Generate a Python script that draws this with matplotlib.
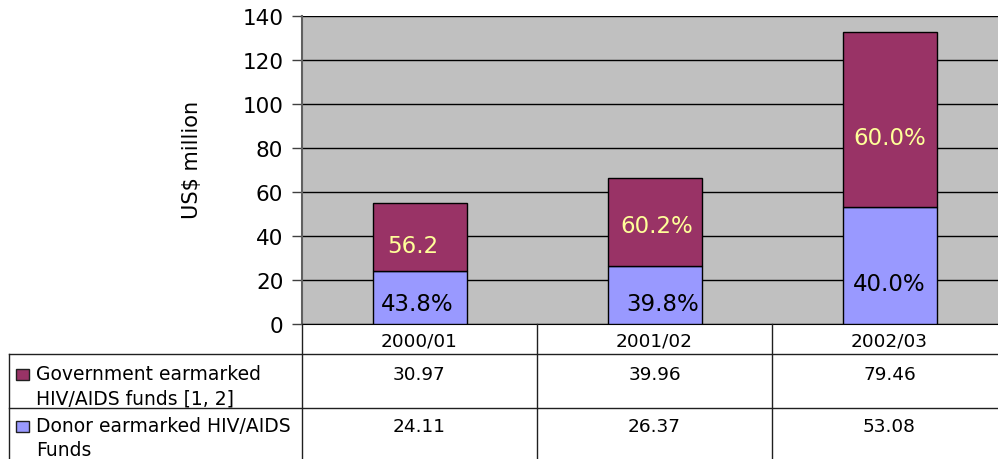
import numpy as np
import matplotlib.pyplot as plt
from matplotlib.lines import Line2D
from matplotlib.patches import Rectangle
from matplotlib.transforms import blended_transform_factory

plt.rcParams['font.family'] = ['DejaVu Sans']

# data
years = ['2000/01', '2001/02', '2002/03']
government = [30.97, 39.96, 79.46]
donor = [24.11, 26.37, 53.08]
gov_labels = ['56.2', '60.2%', '60.0%']
donor_labels = ['43.8%', '39.8%', '40.0%']
series_names = [['Government earmarked', 'HIV/AIDS funds [1, 2]'],
                ['Donor earmarked HIV/AIDS', 'Funds']]

gov_color = '#993366'
donor_color = '#9999FF'

W, H = 998, 460
fig = plt.figure(figsize=(W / 100, H / 100), dpi=100)


def fx(px):
    return px / W


def fy(py):
    return 1 - py / H


# plot area (right edge runs past the picture, as in the original)
ax = fig.add_axes([fx(302), fy(325), fx(1007) - fx(302), fy(17) - fy(325)])
ax.set_facecolor('#C0C0C0')

x = np.arange(len(years))
ax.bar(x, donor, width=0.4, color=donor_color, edgecolor='black', linewidth=1, zorder=3)
ax.bar(x, government, width=0.4, bottom=donor, color=gov_color, edgecolor='black',
       linewidth=1, zorder=3)

# label spots inside the segments (moved by hand in the original)
gov_off = [(-0.03, 0.38), (0.01, 0.46), (0.0, 0.40)]
don_off = [(-0.01, 0.38), (0.035, 0.35), (0.0, 0.35)]
for i in range(len(years)):
    dx, fr = gov_off[i]
    ax.text(x[i] + dx, donor[i] + government[i] * fr, gov_labels[i], ha='center', va='center',
            fontsize=16.5, color='#FFFF99', zorder=4)
    dx, fr = don_off[i]
    ax.text(x[i] + dx, donor[i] * fr, donor_labels[i], ha='center', va='center',
            fontsize=16.5, color='black', zorder=4)

ax.set_xlim(-0.5, 2.5)
ax.set_ylim(0, 140)
ax.set_yticks(range(0, 141, 20))
ax.set_xticks([])
ax.yaxis.grid(True, color='black', linewidth=1, zorder=1)
ax.set_axisbelow(True)
ax.tick_params(axis='y', direction='out', length=7.5, width=1, labelsize=15.5, pad=6,
               color='#404040')
for s in ['top', 'right']:
    ax.spines[s].set_visible(False)
ax.spines['left'].set_color('#606060')
ax.spines['left'].set_linewidth(1.5)
ax.spines['bottom'].set_color('black')
ax.set_ylabel('US$ million', fontsize=15)
ax.yaxis.set_label_coords(-(302 - 202) / 705, (325 - 160) / 308)

# data table under the chart
lc = '#202020'


def hline(y, x0, x1):
    fig.add_artist(Line2D([fx(x0), fx(x1)], [fy(y), fy(y)], color=lc, lw=1))


def vline(xp, y0, y1):
    fig.add_artist(Line2D([fx(xp), fx(xp)], [fy(y0), fy(y1)], color=lc, lw=1))


hline(355, 9, 1000)
hline(409, 9, 1000)
vline(9, 355, 470)
for b in [-0.5, 0.5, 1.5]:
    vline(ax.transData.transform((b, 0))[0], 325, 470)

trans = blended_transform_factory(ax.transData, fig.transFigure)
for i, yr in enumerate(years):
    fig.text(x[i], fy(342), yr, transform=trans, fontsize=13.3, ha='center', va='center')
    fig.text(x[i], fy(375), f'{government[i]:.2f}', transform=trans, fontsize=13.3,
             ha='center', va='center')
    fig.text(x[i], fy(427), f'{donor[i]:.2f}', transform=trans, fontsize=13.3,
             ha='center', va='center')

row_mid = [375, 427]
for lines, col, mid in zip(series_names, [gov_color, donor_color], row_mid):
    fig.add_artist(Rectangle((fx(16), fy(mid + 6)), fx(13), fy(0) - fy(11),
                             transform=fig.transFigure, facecolor=col,
                             edgecolor='#202020', lw=1))
    for k, line in enumerate(lines):
        fig.text(fx(36), fy(mid + 24 * k), line, fontsize=13.5, ha='left', va='center')

fig.savefig('out.png', dpi=100)
